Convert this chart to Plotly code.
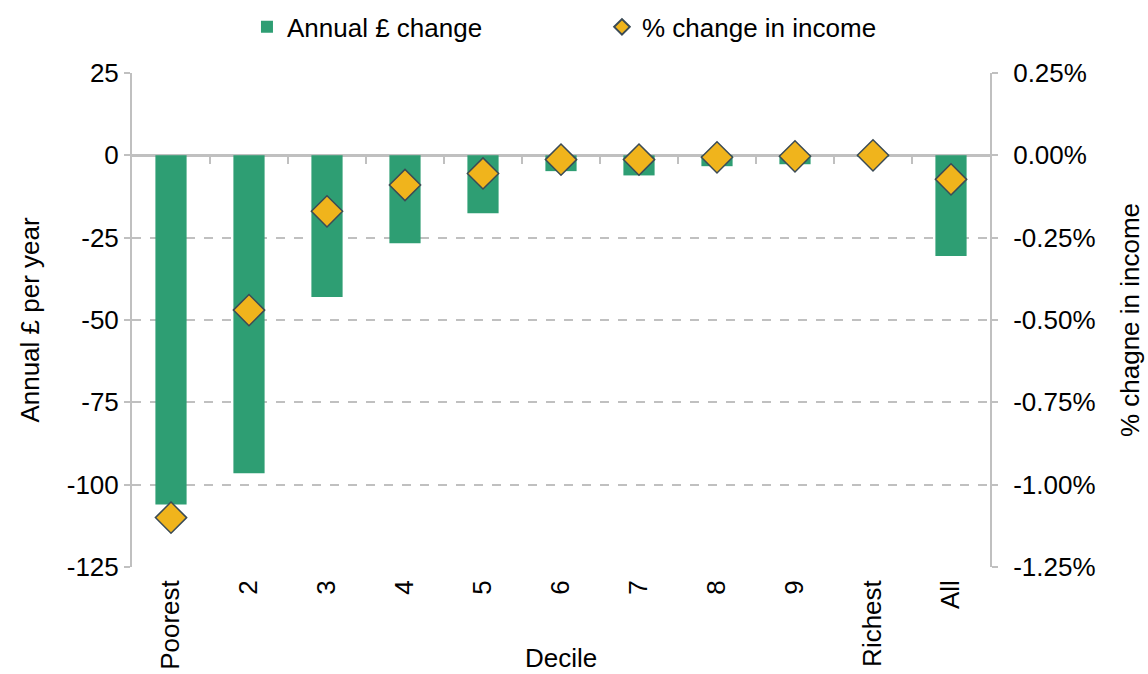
import plotly.graph_objects as go

categories = ["Poorest", "2", "3", "4", "5", "6", "7", "8", "9", "Richest", "All"]
annual_change = [-106, -96.5, -43, -26.7, -17.6, -4.8, -6.1, -3.3, -2.7, -0.3, -30.6]
pct_change = [-1.10, -0.47, -0.17, -0.09, -0.055, -0.013, -0.013, -0.006, -0.003, 0.0, -0.073]

left_ticks = [25, 0, -25, -50, -75, -100, -125]
left_ticktext = ["25", "0", "-25", "-50", "-75", "-100", "-125"]
right_ticks = [0.25, 0, -0.25, -0.5, -0.75, -1.0, -1.25]
right_ticktext = ["0.25%", "0.00%", "-0.25%", "-0.50%", "-0.75%", "-1.00%", "-1.25%"]

GREEN = "#2E9E73"
GOLD = "#F0B41C"
GRID = "#C0C0C0"
FONT = "Liberation Sans, Arial, sans-serif"
FS = 26

fig = go.Figure()
fig.add_trace(go.Bar(
    x=categories, y=annual_change, name="Annual £ change",
    marker=dict(color=GREEN, line=dict(width=0)), yaxis="y", xaxis="x",
))
fig.add_trace(go.Scatter(
    x=categories, y=pct_change, name="% change in income", mode="markers",
    marker=dict(symbol="diamond", size=24, color=GOLD, line=dict(color="#3B4B55", width=1.5)),
    yaxis="y2", xaxis="x",
))
# helper trace to make the boundary-tick axis render (invisible)
fig.add_trace(go.Scatter(
    x=[-0.5, 10.5], y=[0, 0], mode="lines", line=dict(color="rgba(0,0,0,0)", width=0),
    xaxis="x3", yaxis="y", showlegend=False, hoverinfo="skip",
))

fig.update_layout(
    width=1148, height=674,
    margin=dict(l=132, r=158, t=73, b=107),
    paper_bgcolor="white", plot_bgcolor="white",
    font=dict(family=FONT, size=FS, color="#000000"),
    bargap=0.6,
    showlegend=True,
    legend=dict(orientation="h", x=0.134, xanchor="left", y=0.96, yanchor="middle",
                yref="container", font=dict(size=FS), entrywidth=310,
                itemwidth=30, itemsizing="constant", traceorder="normal"),
    xaxis=dict(
        type="category", categoryorder="array", categoryarray=categories,
        range=[-0.5, 10.5], showgrid=False, showline=False, zeroline=False,
        ticks="", tickangle=-90, tickfont=dict(size=FS), ticklabelstandoff=7,
        automargin=False,
    ),
    xaxis3=dict(
        overlaying="x", anchor="free", position=125/150, range=[-0.5, 10.5],
        tickmode="array", tickvals=[i + 0.5 for i in range(10)],
        ticks="outside", ticklen=8, tickwidth=2, tickcolor=GRID,
        showticklabels=False, showgrid=False, showline=False, zeroline=False,
    ),
    yaxis=dict(
        range=[-125, 25], tickmode="array", tickvals=left_ticks, ticktext=left_ticktext,
        showgrid=True, gridcolor=GRID, griddash="dash", gridwidth=1.5,
        zeroline=True, zerolinecolor=GRID, zerolinewidth=2.5,
        showline=True, linecolor=GRID, linewidth=2,
        ticks="outside", ticklen=6, tickcolor=GRID, tickwidth=1.5,
        tickfont=dict(size=FS), automargin=False,
        title=dict(text="Annual £ per year", font=dict(size=FS), standoff=20),
    ),
    yaxis2=dict(
        overlaying="y", side="right", range=[-1.25, 0.25],
        tickmode="array", tickvals=right_ticks, ticktext=right_ticktext,
        showgrid=False, zeroline=False,
        showline=True, linecolor=GRID, linewidth=2,
        ticks="outside", ticklen=6, tickcolor=GRID, tickwidth=1.5,
        tickfont=dict(size=FS), ticklabelstandoff=10, automargin=False,
        title=dict(text="% chagne in income", font=dict(size=FS), standoff=26),
    ),
    annotations=[dict(
        text="Decile", xref="paper", yref="paper", x=0.5, y=-(91 / 494),
        xanchor="center", yanchor="middle", showarrow=False, font=dict(size=FS),
    )],
)

fig.write_html("out.html")
